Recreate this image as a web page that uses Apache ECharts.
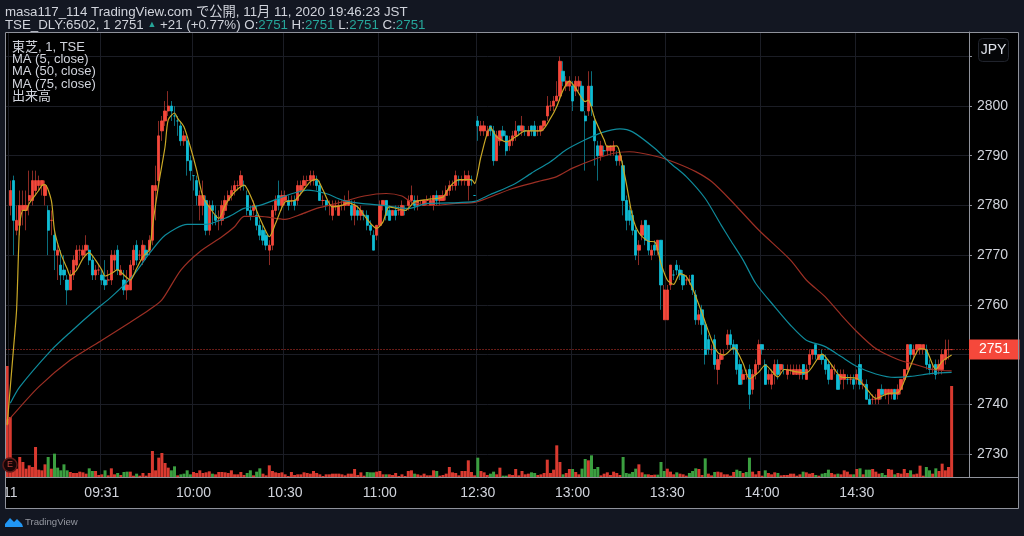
<!DOCTYPE html>
<html><head><meta charset="utf-8">
<style>html,body{margin:0;padding:0;background:#131722}#c{width:1024px;height:536px}</style>
<script src="https://cdn.jsdelivr.net/npm/echarts@6/dist/echarts.min.js"></script>
</head><body><div id="c"></div>
<script>
// [open, close, low, high] per bar
const candles=[
[2736,2737,2736,2737],[2780,2783,2778,2785],[2785,2777,2770,2786],[2775,2777,2774,2780],[2776,2780,2774,2783],[2779,2780,2776,2783],[2779,2780,2775,2783],[2781,2782,2778,2787],[2781,2785,2780,2787],[2783,2785,2782,2787],
[2784,2785,2783,2786],[2784,2785,2782,2785],[2782,2784,2780,2785],[2779,2775,2770,2780],[2777,2777,2774,2779],[2774,2771,2767,2775],[2770,2771,2765,2772],[2768,2766,2764,2771],[2767,2766,2765,2770],[2765,2763,2760,2766],
[2763,2766,2763,2767],[2766,2769,2765,2770],[2768,2771,2767,2772],[2771,2771,2769,2772],[2770,2771,2769,2772],[2771,2772,2770,2774],[2771,2769,2768,2772],[2769,2766,2765,2770],[2766,2767,2765,2768],[2767,2767,2766,2768],
[2766,2765,2764,2767],[2765,2764,2763,2769],[2765,2765,2764,2767],[2765,2770,2764,2771],[2769,2770,2767,2771],[2771,2767,2766,2772],[2766,2767,2766,2768],[2765,2763,2762,2767],[2763,2764,2761,2767],[2763,2768,2763,2769],
[2768,2771,2767,2772],[2772,2769,2768,2773],[2770,2770,2769,2771],[2769,2772,2768,2773],[2771,2770,2769,2772],[2771,2773,2770,2774],[2773,2784,2772,2784],[2783,2784,2777,2788],[2785,2794,2784,2797],[2795,2797,2793,2798],
[2797,2799,2796,2801],[2799,2800,2798,2803],[2800,2799,2797,2801],[2798,2798,2796,2800],[2797,2797,2794,2798],[2796,2793,2792,2797],[2793,2794,2792,2795],[2793,2789,2786,2794],[2789,2787,2785,2790],[2786,2786,2783,2786],
[2785,2782,2780,2786],[2780,2782,2777,2783],[2780,2782,2778,2785],[2781,2775,2774,2782],[2775,2780,2774,2781],[2780,2779,2776,2781],[2778,2777,2776,2780],[2777,2777,2775,2779],[2777,2780,2776,2781],[2779,2781,2778,2782],
[2781,2782,2780,2783],[2782,2783,2781,2784],[2783,2784,2782,2785],[2784,2784,2783,2785],[2784,2786,2783,2787],[2784,2784,2783,2785],[2782,2779,2778,2783],[2779,2778,2777,2780],[2779,2780,2778,2781],[2778,2776,2775,2780],
[2776,2774,2773,2777],[2775,2773,2772,2776],[2774,2772,2771,2775],[2771,2772,2768,2773],[2772,2779,2771,2780],[2779,2781,2778,2782],[2782,2780,2779,2785],[2780,2782,2779,2783],[2781,2782,2780,2783],[2781,2780,2779,2782],
[2781,2781,2780,2782],[2781,2780,2779,2782],[2781,2784,2780,2785],[2783,2784,2782,2785],[2784,2785,2783,2786],[2785,2785,2784,2786],[2785,2786,2784,2787],[2785,2786,2784,2787],[2785,2784,2783,2786],[2784,2781,2781,2785],
[2781,2781,2780,2782],[2781,2780,2779,2781],[2780,2780,2778,2781],[2778,2780,2777,2781],[2780,2780,2779,2781],[2778,2780,2778,2781],[2780,2780,2779,2781],[2780,2781,2779,2782],[2780,2781,2780,2783],[2780,2778,2777,2781],
[2778,2780,2776,2781],[2779,2778,2777,2780],[2778,2779,2777,2780],[2778,2778,2777,2779],[2778,2776,2775,2779],[2776,2775,2774,2777],[2774,2771,2771,2775],[2774,2776,2773,2776],[2776,2780,2776,2781],[2780,2781,2779,2781],
[2781,2778,2777,2781],[2779,2777,2777,2780],[2778,2779,2778,2779],[2779,2778,2777,2780],[2779,2779,2778,2780],[2778,2780,2778,2781],[2779,2779,2778,2780],[2780,2781,2779,2782],[2781,2782,2780,2784],[2781,2780,2779,2782],
[2780,2781,2779,2782],[2781,2781,2780,2781],[2780,2781,2780,2781],[2781,2781,2780,2782],[2780,2781,2780,2782],[2780,2782,2779,2782],[2782,2781,2780,2783],[2781,2782,2780,2782],[2781,2782,2781,2783],[2782,2783,2781,2784],
[2783,2784,2782,2785],[2784,2784,2783,2785],[2784,2786,2783,2787],[2785,2785,2784,2786],[2785,2785,2784,2786],[2785,2786,2784,2787],[2784,2786,2781,2787],[2785,2785,2784,2786],[2782,2782,2782,2782],[2797,2796,2793,2798],
[2795,2796,2794,2797],[2795,2796,2794,2797],[2794,2795,2794,2796],[2796,2795,2794,2796],[2795,2789,2788,2796],[2789,2794,2789,2795],[2793,2795,2792,2795],[2795,2794,2793,2796],[2794,2791,2790,2795],[2792,2793,2791,2794],
[2793,2794,2792,2795],[2794,2795,2793,2797],[2796,2795,2794,2796],[2795,2796,2794,2798],[2795,2795,2794,2796],[2794,2795,2794,2796],[2796,2795,2794,2796],[2796,2794,2794,2797],[2795,2795,2794,2796],[2795,2796,2794,2796],
[2796,2797,2795,2797],[2798,2800,2797,2802],[2800,2800,2799,2801],[2800,2801,2799,2802],[2801,2802,2801,2805],[2802,2809,2801,2810],[2807,2805,2804,2809],[2804,2805,2803,2806],[2804,2805,2803,2806],[2804,2801,2799,2805],
[2803,2805,2802,2806],[2804,2805,2803,2806],[2804,2799,2799,2805],[2798,2797,2787,2799],[2799,2804,2798,2807],[2804,2800,2798,2807],[2797,2793,2788,2798],[2792,2790,2785,2793],[2790,2792,2789,2793],[2791,2791,2790,2792],
[2791,2792,2790,2792],[2791,2792,2790,2792],[2791,2792,2790,2793],[2790,2789,2788,2791],[2789,2790,2788,2791],[2788,2781,2778,2789],[2781,2777,2775,2782],[2779,2777,2776,2780],[2778,2775,2774,2779],[2775,2770,2769,2776],
[2771,2772,2768,2773],[2774,2776,2773,2777],[2777,2773,2772,2777],[2776,2771,2770,2776],[2770,2771,2769,2772],[2772,2771,2770,2773],[2771,2773,2770,2773],[2773,2764,2759,2773],[2757,2763,2757,2764],[2757,2763,2757,2764],
[2764,2768,2763,2768],[2766,2766,2765,2767],[2768,2767,2766,2769],[2767,2766,2765,2768],[2766,2764,2763,2767],[2765,2765,2764,2766],[2765,2765,2764,2766],[2766,2763,2762,2766],[2762,2757,2756,2763],[2757,2758,2756,2759],
[2759,2756,2754,2760],[2756,2750,2748,2757],[2753,2751,2750,2754],[2751,2751,2750,2752],[2753,2748,2747,2754],[2747,2749,2744,2750],[2749,2750,2748,2751],[2750,2750,2749,2751],[2752,2754,2751,2755],[2754,2752,2751,2755],
[2752,2751,2750,2753],[2752,2747,2746,2752],[2748,2744,2744,2749],[2745,2746,2744,2747],[2746,2746,2745,2747],[2747,2742,2739,2748],[2743,2746,2742,2747],[2746,2748,2745,2749],[2748,2752,2747,2753],[2752,2751,2750,2752],
[2748,2744,2744,2749],[2745,2746,2744,2747],[2744,2746,2743,2747],[2746,2748,2744,2749],[2748,2746,2745,2749],[2747,2748,2746,2748],[2747,2747,2746,2748],[2746,2747,2745,2748],[2747,2747,2746,2748],[2746,2747,2746,2748],
[2746,2747,2746,2748],[2746,2747,2745,2748],[2748,2746,2745,2748],[2745,2747,2745,2748],[2748,2750,2747,2751],[2750,2751,2749,2751],[2752,2750,2749,2752],[2749,2750,2749,2750],[2750,2749,2748,2751],[2749,2747,2746,2750],
[2748,2745,2744,2749],[2745,2747,2745,2748],[2747,2747,2746,2748],[2746,2743,2743,2747],[2745,2746,2744,2747],[2745,2746,2743,2747],[2745,2745,2744,2746],[2745,2745,2744,2746],[2745,2744,2743,2746],[2745,2746,2744,2747],
[2748,2744,2743,2750],[2744,2744,2743,2745],[2744,2741,2741,2745],[2741,2740,2740,2742],[2741,2741,2740,2742],[2741,2741,2740,2742],[2741,2743,2740,2743],[2743,2742,2741,2744],[2742,2743,2741,2743],[2742,2743,2740,2743],
[2742,2743,2741,2743],[2743,2741,2741,2743],[2742,2743,2741,2744],[2743,2745,2742,2745],[2745,2747,2744,2747],[2747,2752,2746,2752],[2752,2750,2749,2752],[2750,2751,2749,2752],[2751,2752,2750,2752],[2751,2752,2750,2752],
[2751,2752,2750,2752],[2751,2748,2747,2752],[2748,2747,2746,2749],[2747,2747,2746,2748],[2748,2746,2745,2749],[2747,2748,2746,2749],[2747,2750,2746,2751],[2749,2751,2748,2753],[2751,2751,2749,2753],[2751,2751,2751,2751]
];
// volume per bar; negative = down bar (green)
const volumes=[333,180,25,25,60,45,25,35,30,90,22,20,38,-60,25,-70,-28,-20,-38,-20,15,12,12,16,14,10,-26,-18,18,6,8,-20,5,26,8,-12,6,-15,-16,16,4,-10,4,12,4,12,78,20,58,72,42,28,-20,-32,5,-8,-10,-20,-8,15,12,20,12,14,17,-10,8,15,15,14,12,20,8,8,15,6,-12,-20,5,-16,-26,10,5,35,18,14,12,14,8,3,15,6,8,8,14,12,10,18,12,8,3,8,8,10,10,10,
8,5,10,10,24,6,14,4,-15,-14,-14,16,18,8,-8,8,6,12,3,8,3,18,20,-10,8,5,10,5,5,20,-18,4,6,10,30,14,12,5,18,18,50,15,5,-58,18,14,6,-10,-16,8,28,-4,-4,8,6,24,5,18,8,10,-14,-12,6,8,12,52,12,22,95,45,-8,12,24,-24,15,8,-25,-54,50,-65,-24,-30,5,10,14,6,16,12,6,-60,-12,-10,-15,-25,38,14,-8,8,6,7,-7,-45,-18,25,16,8,-14,10,
8,4,-12,-18,-26,24,6,-56,10,5,-15,16,14,8,8,4,15,-22,-18,12,-15,-58,16,8,18,4,-20,12,8,14,-12,5,6,6,10,10,4,8,-16,14,10,12,-6,4,-10,-12,-22,12,8,-10,8,20,16,8,-8,24,-26,8,-22,-22,24,16,10,-12,-6,24,22,-8,12,10,24,12,-20,8,10,34,4,-30,-20,10,-26,18,40,20,30,273];
const ma5=[[0,2735.8],[1.6,2751],[2.9,2759],[4.2,2776.4],[5.1,2779],[5.8,2779],[7.4,2780.4],[9.5,2783],[11.1,2784],[11.8,2784.2],[13.7,2781],[15.3,2775],[16.9,2770.3],[18.5,2767.3],[20.3,2765.9],[21.6,2767],[23.8,2769.3],[25.6,2770.5],[28,2769],[29.6,2767],[31.2,2765.8],[32.7,2766.3],[34.8,2767.1],[36.4,2766.6],[38.5,2765],[40.6,2767.3],[42.8,2769.7],[44.9,2771],[46.4,2775.7],[48,2784.4],[49.6,2791.8],[51.2,2797.2],[52.8,2798.6],[54.4,2797.5],[56,2795.8],[57.5,2791.8],[59.6,2787.1],[62.3,2781.7],[64.4,2779.7],[67,2777.4],[69.1,2780],[71.8,2782.7],[74.9,2784.1],[77,2782],[79.7,2777.4],[81.8,2774.7],[83.1,2773.7],[85,2776.4],[87.6,2780.7],[90.7,2781],[92.9,2782.4],[95.5,2784.8],[97.6,2785.3],[99.7,2783.1],[102.9,2779.7],[105.5,2780],[107.6,2780.5],[110.8,2779.7],[113.4,2778],[116.9,2775.4],[118.7,2776.7],[121.3,2779.7],[125.6,2779],[128.7,2780.7],[132.9,2781.2],[137.7,2781.7],[140.3,2783.7],[142.9,2785.2],[146.6,2785.2],[147.9,2784.4],[149.8,2789.8],[152.8,2795.7],[154.6,2793.8],[157.7,2792.8],[161.4,2793.8],[164,2795],[169.3,2795],[172,2797.5],[173.9,2799.9],[175.7,2803.2],[178.3,2805],[180.4,2803.6],[183,2800.9],[184.4,2801.2],[186.2,2797.5],[188.8,2793.2],[190.4,2791.8],[192.5,2792],[194.1,2790.5],[196.2,2784.5],[198.3,2777.7],[199.9,2774.5],[202.6,2772.8],[205.2,2772.7],[207.3,2768.3],[209.4,2765],[211,2764.1],[213.1,2766.3],[215.2,2765.7],[217.3,2763.3],[220,2758.3],[222.6,2753],[224.7,2750.4],[226.8,2749.9],[230,2751.4],[232.6,2748.2],[235.3,2745.1],[237.9,2746.5],[240,2747.9],[243.7,2745.5],[246.3,2747],[250,2746.5],[252.7,2746.3],[257.9,2750.1],[260.6,2747.9],[263.7,2745.5],[269,2745.2],[271.7,2743.2],[275.3,2741.2],[278.5,2742.2],[281.7,2742.3],[284.8,2746.2],[289,2751.2],[290.6,2750.9],[294.3,2747],[296.4,2748.6],[299,2749.9]];
const ma50=[[0.5,2740.2],[4.3,2743.5],[13.7,2750.9],[20.1,2754.5],[28,2759],[32.7,2761.6],[40.1,2766],[45.4,2770.3],[50.1,2774],[56.5,2776.2],[63.3,2776.2],[69.6,2777.7],[74.9,2779.4],[80.2,2780],[87.6,2781.9],[91.8,2782.7],[95,2783.1],[101.3,2782.4],[105.5,2781.1],[111.8,2780.4],[119.2,2780],[126.6,2779.4],[132.9,2780.4],[140.3,2780.5],[148.2,2780.8],[153,2782.2],[160.4,2784.1],[166.2,2786.5],[172,2788.8],[177.2,2791.2],[182.5,2793.2],[187.8,2794.6],[194.1,2795.4],[198.3,2794.8],[205.2,2791.5],[210,2788.5],[215.2,2785.8],[220.5,2781.4],[225.8,2776.1],[228.9,2773],[232.6,2769],[237.4,2764.3],[242.6,2759.6],[248,2755.9],[253.2,2752.9],[258.5,2751.6],[263.7,2749.6],[269,2747.6],[275.3,2746.1],[280.6,2745.4],[285.9,2745.6],[293.3,2746.2],[299,2746.4]];
const ma75=[[0.8,2737.2],[10,2743.5],[20,2748.9],[29.6,2752.9],[39,2756.5],[44.9,2759],[48.5,2761],[54.9,2767],[61.2,2770.7],[67.5,2773.7],[71.8,2775.7],[74.9,2777.8],[80.2,2777.8],[87.6,2777.2],[92.9,2778.2],[98.1,2779.4],[105.5,2780.7],[112.9,2781.9],[120.3,2782.4],[124.5,2781.9],[127.7,2780.7],[135,2780],[142.4,2780.4],[148.2,2780.6],[153,2781.7],[160.4,2783.4],[167.7,2784.8],[174,2785.8],[179.4,2787.5],[185.7,2789.3],[192,2790.5],[197.3,2790.8],[205.7,2789.8],[212,2788.5],[218.4,2786.8],[223.1,2784.8],[228.9,2781.1],[238,2775],[247.9,2769],[253.2,2765],[258.5,2761.6],[263.7,2758],[269,2754.6],[275.3,2751.2],[281.7,2749],[288,2747.9],[293.3,2747],[299,2746.7]];
const priceTicks=[2730,2740,2750,2760,2770,2780,2790,2800,2810];
const priceLabels=[2730,2740,2760,2770,2780,2790,2800];
const lastPrice=2751;
const timeTickIndex=[1,30,59,88,118,149,179,209,239,269];
const timeTickLabels=['11','09:31','10:00','10:30','11:00','12:30','13:00','13:30','14:00','14:30'];
const barSlots=305;
const legendLines=['東芝, 1, TSE','MA (5, close)','MA (50, close)','MA (75, close)','出来高'];

const FONT="'Liberation Sans','Noto Sans CJK JP',sans-serif";
const RED='#f5483b',CYAN='#0fbcd4';
const cats=Array.from({length:barSlots},(_,i)=>String(i));
const lineSeries=(name,data,color,z)=>({name,type:'line',data,showSymbol:false,smooth:0.25,z,lineStyle:{color,width:1.2},silent:true,animation:false});
const chart=echarts.init(document.getElementById('c'),null,{renderer:'canvas'});
const txt=(x,y,text,size,color,extra)=>({type:'text',z:100,x,y,silent:true,style:Object.assign({text,fontSize:size,fontFamily:FONT,fill:color,verticalAlign:'middle'},extra||{})});
const gfx=[
 {type:'rect',z:-10,silent:true,shape:{x:5,y:32,width:1013,height:476},style:{fill:'#000'}},
 {type:'rect',z:90,silent:true,shape:{x:0,y:478,width:5,height:30},style:{fill:'#131722'}},
 {type:'rect',z:91,silent:true,shape:{x:5.5,y:32.5,width:1013,height:476},style:{fill:'none',stroke:'#8f929b',lineWidth:1}},
 {type:'line',z:91,silent:true,shape:{x1:969,y1:477.5,x2:1018,y2:477.5},style:{stroke:'#8f929b',lineWidth:1}},
 {type:'rect',z:92,silent:true,shape:{x:978.5,y:38.5,width:30,height:23,r:4},style:{fill:'#050608',stroke:'#20232c',lineWidth:1}},
 txt(993.5,50,'JPY',14,'#e0e3eb',{align:'center'}),
 {type:'circle',z:95,silent:true,shape:{cx:10,cy:465,r:7},style:{fill:'#160506',stroke:'#5e1a18',lineWidth:1.5}},
 txt(10,465,'E',9,'#b8423c',{align:'center'}),
 txt(5,12,'masa117_114 TradingView.com で公開, 11月 11, 2020 19:46:23 JST',13.3,'#d1d4dc'),
 {type:'text',z:100,x:5,y:25,silent:true,style:{verticalAlign:'middle',fontFamily:FONT,fontSize:13.3,fill:'#d1d4dc',
   text:'TSE_DLY:6502, 1 2751 {t|▲} +21 (+0.77%) O:{g|2751} H:{g|2751} L:{g|2751} C:{g|2751}',
   rich:{t:{fill:'#26a69a',fontSize:9,fontFamily:FONT,verticalAlign:'middle'},g:{fill:'#26a69a',fontSize:13.3,fontFamily:FONT}}}},
 {type:'polygon',z:100,silent:true,shape:{points:[[5,527],[5,524],[10,518],[14,522],[17,519],[22,524],[23,527]]},style:{fill:'#2196f3'}},
 txt(25,522,'TradingView',9.6,'#9598a1')
];
legendLines.forEach((t,i)=>gfx.push(txt(12,47+i*12.45,t,13,'#d1d4dc')));

chart.setOption({
 animation:false,backgroundColor:'#131722',
 grid:{left:5,right:55,top:32,bottom:59},
 graphic:{elements:gfx},
 xAxis:{type:'category',data:cats,boundaryGap:true,
  axisLine:{lineStyle:{color:'#8f929b',width:1}},
  axisTick:{alignWithLabel:true,length:3,lineStyle:{color:'#8f929b'},interval:(i)=>timeTickIndex.includes(i)},
  splitLine:{show:true,lineStyle:{color:'#1b1d25',width:1},interval:(i)=>timeTickIndex.includes(i)},
  axisLabel:{interval:(i)=>timeTickIndex.includes(i),margin:9,fontSize:14,fontFamily:FONT,color:'#d1d4dc',hideOverlap:false,
   formatter:(v,i)=>timeTickLabels[timeTickIndex.indexOf(+v)]||''}},
 yAxis:[
  {type:'value',position:'right',min:2725.37,max:2814.89,scale:true,
   axisLine:{show:true,lineStyle:{color:'#8f929b',width:1}},
   axisTick:{show:true,length:3,customValues:priceTicks,lineStyle:{color:'#8f929b'}},
   splitLine:{show:true,lineStyle:{color:'#1b1d25',width:1}},
   axisLabel:{customValues:priceLabels,margin:8,fontSize:14,fontFamily:FONT,color:'#d1d4dc',formatter:(v)=>String(v)}},
  {type:'value',min:0,max:1335,show:false,splitLine:{show:false}}
 ],
 series:[
  {name:'出来高',type:'bar',yAxisIndex:1,barWidth:3,z:1,silent:true,
   data:volumes.map(v=>({value:Math.abs(v),itemStyle:{color:v<0?'#3b9f40':'#d93a30'}}))},
  // wicks, dim, underneath
  {name:'東芝 wick',type:'candlestick',data:candles,barWidth:1,z:2,silent:true,
   itemStyle:{color:'#8a2a24',color0:'#0a6d7c',borderColor:'#8a2a24',borderColor0:'#0a6d7c',borderWidth:1}},
  // bodies, bright, from the same open and close
  {name:'東芝',type:'candlestick',data:candles.map(c=>[c[0],c[1],Math.min(c[0],c[1]),Math.max(c[0],c[1])]),barWidth:2.8,z:3,silent:true,
   itemStyle:{color:RED,color0:CYAN,borderColor:RED,borderColor0:CYAN,borderWidth:0.8},
   markLine:{silent:true,symbol:'none',animation:false,
    lineStyle:{color:'#d0392f',type:[1,2],width:1},
    label:{show:true,position:'end',distance:0,formatter:()=>String(lastPrice),fontSize:14,fontFamily:FONT,color:'#fff',backgroundColor:RED,padding:[3,9.5,3,10]},
    data:[{yAxis:lastPrice}]}},
  lineSeries('MA (75, close)',ma75,'#9c2f24',4),
  lineSeries('MA (50, close)',ma50,'#0f8b9c',5),
  lineSeries('MA (5, close)',ma5,'#c9a826',6)
 ]
});
</script></body></html>
